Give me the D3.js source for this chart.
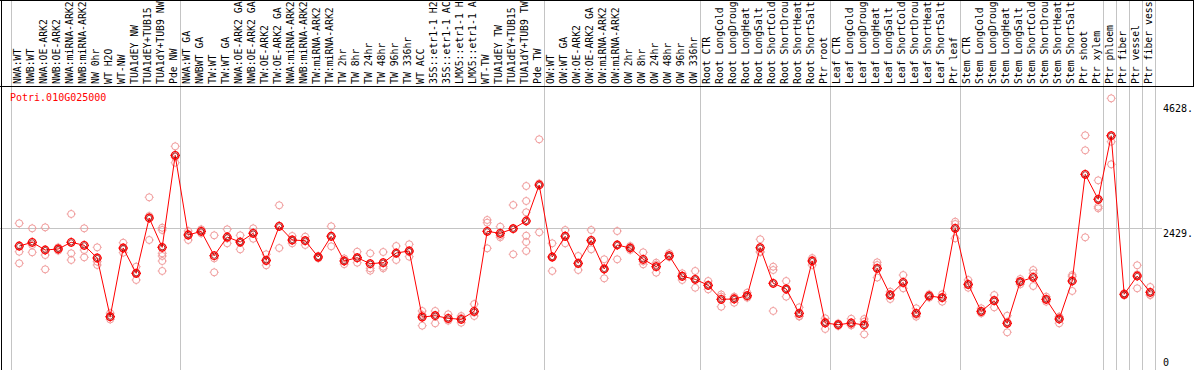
<!DOCTYPE html>
<html>
<head>
<meta charset="utf-8">
<script src="https://cdn.jsdelivr.net/npm/d3@7/dist/d3.min.js"></script>
<style>
  body { margin: 0; background: #fff; }
  svg { display: block; font-family: "DejaVu Sans Mono", "Liberation Mono", monospace; }
</style>
</head>
<body>
<svg id="chart" width="1194" height="370"></svg>
<script>
// sample labels, one per column
const labels = [
  'NWA:WT','NWB:WT','NWA:OE-ARK2','NWB:OE-ARK2','NWA:miRNA-ARK2','NWB:miRNA-ARK2','NW 0hr','WT H2O','WT-NW',
  'TUA1dEY NW','TUA1dEY+TUB15 NW','TUA1dY+TUB9 NW','Pde NW',
  'NWA:WT GA','NWBWT GA','TW:WT','TW:WT GA','NWA:OE-ARK2 GA','NWB:OE-ARK2 GA','TW:OE-ARK2','TW:OE-ARK2 GA',
  'NWA:miRNA-ARK2','NWB:miRNA-ARK2','TW:miRNA-ARK2','TW:miRNA-ARK2','TW 2hr','TW 8hr','TW 24hr','TW 48hr',
  'TW 96hr','TW 336hr','WT ACC','35S::etr1-1 H2O','35S::etr1-1 ACC','LMX5::etr1-1 H2O','LMX5::etr1-1 ACC',
  'WT-TW','TUA1dEY TW','TUA1dEY+TUB15 TW','TUA1dY+TUB9 TW','Pde TW',
  'OW:WT','OW:WT GA','OW:OE-ARK2','OW:OE-ARK2 GA','OW:miRNA-ARK2','OW:miRNA-ARK2','OW 2hr','OW 8hr',
  'OW 24hr','OW 48hr','OW 96hr','OW 336hr',
  'Root CTR','Root LongCold','Root LongDrought','Root LongHeat','Root LongSalt','Root ShortCold',
  'Root ShortDrought','Root ShortHeat','Root ShortSalt','Ptr root',
  'Leaf CTR','Leaf LongCold','Leaf LongDrought','Leaf LongHeat','Leaf LongSalt','Leaf ShortCold',
  'Leaf ShortDrought','Leaf ShortHeat','Leaf ShortSalt','Ptr leaf',
  'Stem CTR','Stem LongCold','Stem LongDrought','Stem LongHeat','Stem LongSalt','Stem ShortCold',
  'Stem ShortDrought','Stem ShortHeat','Stem ShortSalt','Ptr shoot','Ptr xylem',
  'Ptr phloem','Ptr fiber','Ptr vessel','Ptr fiber vessel'
];

// mean expression per sample
const means = [
  2118,2183,2048,2066,2183,2131,1908,878,2083,1639,2610,2095,3710,
  2311,2376,1948,2276,2188,2341,1867,2464,2224,2211,1925,2289,1855,1913,1808,1825,1995,2031,
  872,895,849,832,972,2376,2341,2422,2557,3189,
  1925,2289,1815,2218,1715,2136,2083,1885,1755,1948,1587,1534,
  1429,1183,1188,1246,2088,1464,1364,937,1855,767,
  737,767,732,1727,1258,1481,937,1241,1211,2429,
  1446,972,1158,762,1492,1569,1183,837,1504,3377,2938,
  4054,1271,1592,1306
];

// replicate values per sample
const reps = [
  [2517,2018,1815],[2429,2136,2008],[2446,1960,1709],[2095,2066,2036],[2680,1990,1873],
  [2429,2048,1920],[2095,1843,1785],[940,870,830],[2176,2070,2001],[1755,1640,1522],
  [2973,2645,2224],[2439,2399,1990,1943,1855,1680],[3868,3680,3580],
  [2381,2330,2224],[2411,2376,2341],[2306,1902,1657],[2411,2250,2166],[2306,2200,2060],
  [2429,2350,2246],[1973,1850,1780],[2833,2476,2083],[2294,2210,2166],[2282,2215,2136],
  [1943,1930,1902],[2464,2290,2113],[1900,1860,1800],[2018,1900,1825],[1990,1727,1685],
  [2013,1755,1727],[2118,1990,1873],[2148,2010,1931],[978,910,720],[978,907,762],
  [920,830,807],[890,855,772],[1100,948,890],[2575,2527,2078],[2457,2300,2271],
  [2838,2429,1973],[3171,2908,2710,2299,2188,2031],[3991,3217,2359],
  [2166,1930,1680],[2399,2300,2166],[1943,1805,1697],[2399,2200,2060],[1885,1710,1551],
  [2381,2140,1885],[2118,2083,2048],[2008,1850,1797],[1825,1790,1650],[1990,1931,1925],
  [1639,1600,1522],[1680,1536,1386],
  [1504,1425,1358],[1267,1229,1053],[1229,1210,1123],[1299,1229,1210],[2236,2018,2010],
  [1755,1697,978],[1504,1360,1229],[1042,890,880],[1907,1873,1785],[849,790,662],
  [762,737,714],[842,732,727],[837,790,569],[1832,1785,1565],[1316,1270,1188],
  [1609,1460,1376],[1025,910,878],[1271,1241,1211],[1271,1220,1141],[2545,2504,2253],
  [1522,1430,1386],[1025,955,937],[1258,1175,1042],[895,787,604],[1539,1490,1446],
  [1697,1639,1416],[1229,1180,1141],[878,870,762],[1609,1580,1329],[4061,3798,2271],
  [3271,2808,2780],
  [4710,3949,3552],[1290,1271,1250],[1780,1620,1376],[1399,1260,1258]
];

// column indexes where a new sample group starts (vertical grid lines)
const groupBreaks = [0, 13, 41, 53, 63, 73, 84, 85, 86, 87, 88];
const axisTicks = [4628, 2429, 0];
const gridValues = [2429];
const geneId = 'Potri.010G025000';

const W = 1194, H = 370, labelH = 86;
const maxChars = 14; // header band only fits 14 characters
const svg = d3.select('#chart');

const x = d3.scaleBand().domain(d3.range(labels.length)).range([10.7, 10.7 + 13 * labels.length]);
const px = i => x(i) + 8.5;
const y = d3.scaleLinear().domain([0, 4628]).range([366.7, 103]);

svg.append('rect').attr('width', W).attr('height', H).attr('fill', '#fff');

// vertical group separators
svg.append('g').selectAll('line')
  .data(groupBreaks)
  .join('line')
  .attr('x1', d => Math.round(x(0) + d * x.step()) + 0.5)
  .attr('x2', d => Math.round(x(0) + d * x.step()) + 0.5)
  .attr('y1', 0).attr('y2', H)
  .attr('stroke', '#c4c4c4').attr('stroke-width', 1);

// horizontal grid
svg.append('g').selectAll('line')
  .data(gridValues)
  .join('line')
  .attr('x1', 0).attr('x2', 1162)
  .attr('y1', d => Math.round(y(d)) + 0.5)
  .attr('y2', d => Math.round(y(d)) + 0.5)
  .attr('stroke', '#c4c4c4');

// frame lines
svg.append('line').attr('x1', 0).attr('x2', W).attr('y1', 0.5).attr('y2', 0.5).attr('stroke', '#000');
svg.append('line').attr('x1', 0).attr('x2', W).attr('y1', labelH + 0.5).attr('y2', labelH + 0.5).attr('stroke', '#000');
svg.append('line').attr('x1', 1.5).attr('x2', 1.5).attr('y1', 0).attr('y2', H).attr('stroke', '#000');
svg.append('line').attr('x1', W - 0.5).attr('x2', W - 0.5).attr('y1', 0).attr('y2', labelH).attr('stroke', '#000');

// sample labels (rotated, shortened to the header band)
svg.append('g')
  .selectAll('text')
  .data(labels)
  .join('text')
  .attr('transform', (d, i) => `translate(${px(i) + 1.5},${labelH - 2}) rotate(-90)`)
  .attr('font-size', 9.8)
  .attr('fill', '#000')
  .text(d => d.slice(0, maxChars));

// gene title
svg.append('text')
  .attr('x', 10).attr('y', 100.5)
  .attr('font-size', 10).attr('fill', '#ff0000')
  .text(geneId);

// right axis labels
svg.append('g').selectAll('text')
  .data(axisTicks)
  .join('text')
  .attr('x', 1163)
  .attr('y', d => Math.min(y(d) + 9, 366))
  .attr('font-size', 10).attr('fill', '#000')
  .text(d => d === 0 ? '0' : d + '.');

// marker: ring with four small ticks
function marker(g, r, t) {
  g.append('circle').attr('r', r).attr('fill', 'none');
  g.append('path').attr('d',
    `M0,${-r}V${-r - t}M0,${r}V${r + t}M${-r},0H${-r - t}M${r},0H${r + t}`);
}

// replicates
const repData = [];
reps.forEach((arr, i) => arr.forEach(v => repData.push({ i, v })));
svg.append('g')
  .attr('stroke', '#f09a9a').attr('stroke-width', 1).attr('fill', 'none')
  .selectAll('g')
  .data(repData)
  .join('g')
  .attr('transform', d => `translate(${px(d.i)},${y(d.v)})`)
  .each(function () { marker(d3.select(this), 3.5, 1); });

// mean line
svg.append('path')
  .datum(means)
  .attr('fill', 'none')
  .attr('stroke', '#ff0000')
  .attr('stroke-width', 1)
  .attr('d', d3.line().x((d, i) => px(i)).y(d => y(d)));

// mean markers
const mg = svg.append('g').attr('fill', 'none')
  .selectAll('g')
  .data(means)
  .join('g')
  .attr('transform', (d, i) => `translate(${px(i)},${y(d)})`);
mg.each(function () {
  const g = d3.select(this).attr('stroke', '#ff0000').attr('stroke-width', 1.2);
  marker(g, 3.8, 1);
});
mg.append('circle').attr('r', 2.6).attr('stroke', '#8a0000').attr('stroke-width', 0.8);
</script>
</body>
</html>
